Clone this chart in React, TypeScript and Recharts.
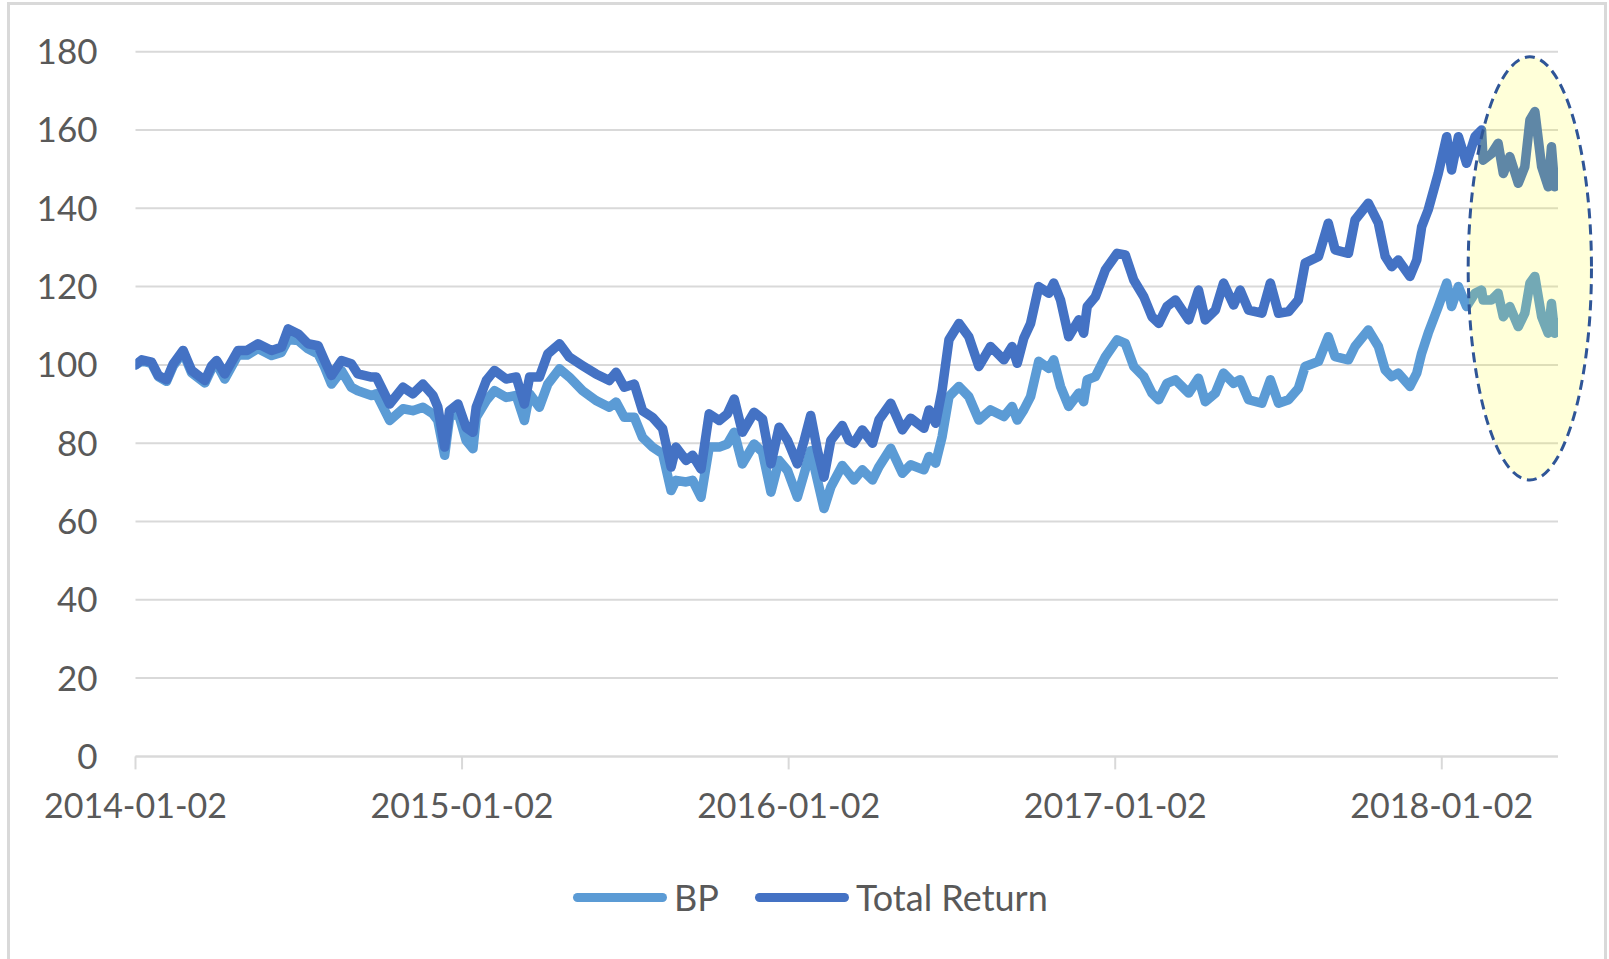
import {
  CartesianGrid,
  Legend,
  Line,
  LineChart,
  ReferenceArea,
  XAxis,
  YAxis,
} from "recharts";

// x = months after 2014-01-02
const MONTHS = [
  0, 0.23, 0.59, 0.84, 1.14, 1.39, 1.75, 2.06, 2.55, 2.8, 2.98, 3.28, 3.77, 4.1, 4.5, 5.0, 5.36, 5.61, 5.98, 6.34, 6.71, 6.95, 7.2, 7.57, 7.93, 8.17, 8.67,
  8.85, 9.34, 9.83, 10.19, 10.56, 10.93, 11.11, 11.36, 11.54, 11.85, 12.15, 12.4, 12.52, 12.89, 13.19, 13.62, 13.99, 14.29, 14.48, 14.84, 15.15, 15.58, 15.94, 16.43, 16.92,
  17.41, 17.66, 17.96, 18.33, 18.63, 19.0, 19.37, 19.68, 19.86, 20.23, 20.47, 20.78, 21.08, 21.45, 21.75, 22.0, 22.3, 22.73, 23.04, 23.35, 23.65, 23.96, 24.32, 24.57, 24.81, 25.06, 25.3, 25.55, 25.97, 26.22,
  26.4, 26.71, 27.08, 27.32, 27.75, 28.18, 28.48, 28.97, 29.16, 29.4, 29.64, 29.89, 30.26, 30.62, 30.99, 31.42, 31.91, 32.21, 32.4, 32.64, 32.89, 33.19, 33.56, 33.74, 33.99, 34.29, 34.66, 34.84, 34.97,
  35.27, 35.64, 36.07, 36.37, 36.68, 37.05, 37.35, 37.6, 37.9, 38.21, 38.7, 39.06, 39.31, 39.68, 39.98, 40.35, 40.59, 40.9, 41.39, 41.7, 42.0, 42.37, 42.73, 42.98, 43.47, 43.83,
  44.08, 44.57, 44.81, 45.3, 45.67, 45.92, 46.16, 46.4, 46.83, 47.08, 47.26, 47.5, 47.87, 48.18, 48.36, 48.61, 48.91, 49.22, 49.46, 49.52, 49.83, 50.07, 50.26, 50.5, 50.81, 51.05, 51.24, 51.42, 51.67, 51.91, 52.03, 52.15, 52.27,
];

const BP = [
  100, 101, 100.4, 97, 95.8, 99.8, 103.2, 98, 95.4, 99.1, 100.3, 96.4, 102.6, 102.5, 104.2, 102.4, 103.2, 106.5, 106.2, 104.1, 102.8, 99.4, 95.1, 98.5, 94.3, 93.4, 92.2,
  92.6, 85.8, 88.8, 88.3, 89.2, 87.5, 85.8, 76.9, 86.6, 87.9, 80.7, 78.6, 86.6, 90.9, 93.4, 91.7, 92.2, 85.8, 92.6, 89.2, 95.1, 99, 96.9, 93.4, 90.9,
  89.2, 90.5, 86.6, 86.6, 81.5, 79, 77.3, 67.9, 70.5, 70.1, 70.5, 66.2, 79, 79, 79.8, 82.8, 74.7, 79.8, 77.7, 67.5, 75.6, 73, 66.2, 72.2, 78.1, 70.5, 63.3, 68.8, 74.3, 72.2,
  70.6, 73.2, 70.6, 74, 78.7, 72.3, 74.5, 73.2, 76.6, 74.9, 81.7, 91.9, 94.5, 91.9, 85.9, 88.5, 86.8, 89.4, 85.9, 88.5, 91.9, 100.9, 99.1, 101.3, 94.5, 89.4, 92.8, 90.6, 96.2,
  97, 102.1, 106.4, 105.5, 99.6, 97, 92.8, 91.1, 95.3, 96.2, 92.8, 96.6, 90.6, 92.8, 97.9, 95.3, 96.2, 91.1, 90.2, 96.2, 90.2, 91.1, 94, 99.6, 100.9, 107.2,
  102.1, 101.3, 104.7, 108.9, 104.7, 98.7, 97, 97.9, 94.5, 97.9, 103, 108.1, 114.9, 120.9, 114.9, 120, 114.9, 118.3, 119.1, 116.6, 116.6, 118.3, 112.3, 114.9, 109.8, 113.2, 120.9, 122.6, 112.3, 108.1, 115.7, 108.1, 110.6,
];

const TOTAL_RETURN = [
  100, 101.3, 100.7, 97.3, 96.2, 100.3, 103.7, 98.6, 96, 99.8, 101.1, 97.7, 103.7, 103.7, 105.4, 103.7, 104.5, 109.2, 107.9, 105.4, 104.9, 101.1, 97.3, 101.1, 100.3, 97.7, 96.9,
  96.9, 90, 94.3, 92.6, 95.1, 92.2, 89.2, 79, 88.3, 90, 84, 82.8, 89.2, 96, 98.6, 96.4, 96.9, 90, 96.9, 96.9, 102.8, 105.4, 102, 99.8, 97.7,
  96, 98.1, 94.3, 95.1, 88.3, 86.6, 83.7, 73.9, 79, 75.6, 76.9, 73.4, 87.5, 85.8, 87.5, 91.3, 82.8, 87.9, 86.2, 74.7, 84.1, 80.7, 74.7, 80.7, 87.1, 78.1, 71.3, 80.7, 84.5, 80.7,
  80, 83.4, 80, 86, 90.2, 83.4, 86.4, 83.8, 88.5, 85.1, 93.6, 106.4, 110.6, 107.2, 99.6, 104.7, 101.3, 104.7, 100.4, 106.8, 110.6, 120, 118.3, 120.9, 116.6, 107.2, 111.5, 108.1, 114.9,
  117.4, 124.3, 128.5, 128.1, 121.7, 117.4, 112.3, 110.6, 114.9, 116.6, 111.5, 119.1, 111.5, 114, 120.9, 115.3, 119.1, 114, 113.2, 120.9, 113.2, 113.6, 116.6, 126, 127.7, 136.2,
  129.4, 128.5, 137, 141.3, 136.2, 127.7, 125.1, 126.8, 122.6, 126.8, 135.3, 139.6, 148.9, 158.3, 149.8, 158.3, 151.5, 158.3, 160, 152.3, 154, 156.6, 148.9, 153.2, 146.4, 150.6, 162.6, 164.7, 150.6, 145.5, 155.7, 145.5, 148.9,
];

const X_TICKS = [0, 12, 24, 36, 48];
const X_TICK_LABELS = ["2014-01-02", "2015-01-02", "2016-01-02", "2017-01-02", "2018-01-02"];
const Y_TICKS = [0, 20, 40, 60, 80, 100, 120, 140, 160, 180];

const SERIES = [
  { key: "bp", name: "BP", color: "#5B9BD5" },
  { key: "total", name: "Total Return", color: "#4472C4" },
];

// highlighted window, in data units
const HIGHLIGHT = { x1: 48.97, x2: 53.5, y1: 70.6, y2: 178.7 };

const data = MONTHS.map((m, i) => ({ m, bp: BP[i], total: TOTAL_RETURN[i] }));

const FONT = "Lato, 'Open Sans', sans-serif";
const TEXT = "#595959";
const GRID = "#D9D9D9";

function EllipseShape(props: any) {
  const { x, y, width, height } = props;
  return (
    <ellipse
      cx={x + width / 2}
      cy={y + height / 2}
      rx={Math.abs(width) / 2}
      ry={Math.abs(height) / 2}
      fill="#FFFF00"
      fillOpacity={0.15}
      stroke="#2F5597"
      strokeWidth={3}
      strokeDasharray="10 6"
    />
  );
}

function LegendContent() {
  return (
    <div
      style={{
        display: "flex",
        alignItems: "center",
        height: 44,
        paddingLeft: 573,
        fontFamily: FONT,
        fontSize: 36,
        color: TEXT,
      }}
    >
      {SERIES.map((s, i) => (
        <div
          key={s.key}
          style={{ display: "flex", alignItems: "center", marginRight: i === 0 ? 36 : 0 }}
        >
          <span
            style={{
              width: 94,
              height: 9,
              borderRadius: 5,
              background: s.color,
              marginRight: 7,
            }}
          />
          <span>{s.name}</span>
        </div>
      ))}
    </div>
  );
}

export default function App() {
  return (
    <div
      style={{
        position: "absolute",
        left: 0,
        top: 0,
        width: 1609,
        height: 959,
        overflow: "hidden",
        background: "#fff",
      }}
    >
      <div
        style={{
          position: "absolute",
          left: 7,
          top: 2,
          width: 1600,
          height: 1000,
          border: `3px solid ${GRID}`,
          boxSizing: "border-box",
        }}
      />
      <div style={{ position: "absolute", left: 0, top: 0 }}>
        <LineChart
          width={1609}
          height={959}
          data={data}
          margin={{ top: 51.7, right: 51, left: 15.5, bottom: 142.6 }}
        >
          <CartesianGrid vertical={false} stroke={GRID} strokeWidth={2} />
          <XAxis
            type="number"
            dataKey="m"
            domain={[0, 52.27]}
            allowDataOverflow
            ticks={X_TICKS}
            interval={0}
            tickFormatter={(v) => X_TICK_LABELS[X_TICKS.indexOf(v)] ?? ""}
            stroke={GRID}
            strokeWidth={2}
            tickSize={13}
            tickMargin={24}
            height={60}
            tick={{ fill: TEXT, fontSize: 34, fontFamily: FONT }}
          />
          <YAxis
            domain={[0, 180]}
            ticks={Y_TICKS}
            interval={0}
            axisLine={false}
            tickLine={false}
            tickSize={0}
            tickMargin={38}
            width={120}
            tick={{ fill: TEXT, fontSize: 35, fontFamily: FONT }}
          />
          {SERIES.map((s) => (
            <Line
              key={s.key}
              type="linear"
              dataKey={s.key}
              name={s.name}
              stroke={s.color}
              strokeWidth={9.5}
              strokeLinejoin="round"
              strokeLinecap="round"
              dot={false}
              activeDot={false}
              isAnimationActive={false}
            />
          ))}
          <ReferenceArea
            x1={HIGHLIGHT.x1}
            x2={HIGHLIGHT.x2}
            y1={HIGHLIGHT.y1}
            y2={HIGHLIGHT.y2}
            ifOverflow="visible"
            shape={EllipseShape}
            {...({ zIndex: 1000 } as any)}
          />
          <Legend
            verticalAlign="middle"
            align="center"
            layout="horizontal"
            wrapperStyle={{ top: 875, left: 0, width: 1609 }}
            content={() => <LegendContent />}
          />
        </LineChart>
      </div>
    </div>
  );
}
